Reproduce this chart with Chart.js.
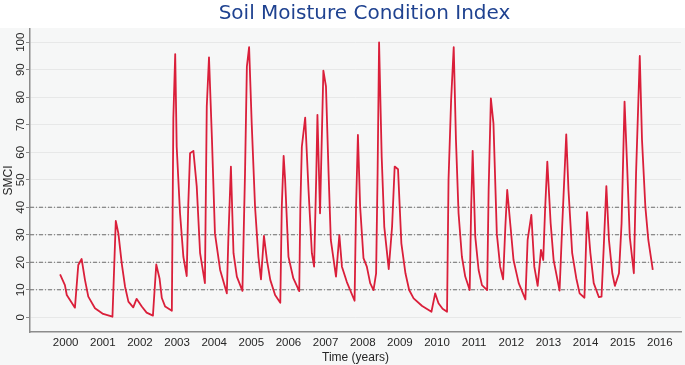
<!DOCTYPE html>
<html>
<head>
<meta charset="utf-8">
<script src="https://cdn.jsdelivr.net/npm/chart.js@4.4.1/dist/chart.umd.min.js"></script>
<style>
  html, body { margin: 0; padding: 0; background: #ffffff; }
  canvas { display: block; }
</style>
</head>
<body>
<canvas id="smciChart" width="685" height="365"></canvas>
<script>
// SMCI readings (decimal year, index value)
const times = [
  1999.85, 1999.98, 2000.03, 2000.25, 2000.34, 2000.43, 2000.52, 2000.61, 2000.79,
  2001.01, 2001.26, 2001.35, 2001.42, 2001.51, 2001.60, 2001.69, 2001.82, 2001.91,
  2002.05, 2002.18, 2002.35, 2002.44, 2002.53, 2002.59, 2002.68, 2002.86, 2002.90, 2002.95, 2002.99,
  2003.08, 2003.17, 2003.26, 2003.30, 2003.35, 2003.44, 2003.53, 2003.62, 2003.75, 2003.80, 2003.86, 2003.94,
  2004.02, 2004.16, 2004.34, 2004.38, 2004.45, 2004.52, 2004.61, 2004.76, 2004.83, 2004.88, 2004.94,
  2005.01, 2005.10, 2005.19, 2005.26, 2005.34, 2005.42, 2005.51, 2005.64, 2005.78, 2005.82, 2005.87, 2005.91,
  2006.00, 2006.13, 2006.29, 2006.32, 2006.36, 2006.45, 2006.54, 2006.63, 2006.69, 2006.75, 2006.78, 2006.85, 2006.94,
  2007.01, 2007.08, 2007.14, 2007.28, 2007.37, 2007.44, 2007.57, 2007.78, 2007.82, 2007.87, 2007.93,
  2008.02, 2008.11, 2008.20, 2008.29, 2008.36, 2008.40, 2008.44, 2008.51, 2008.58, 2008.70, 2008.79, 2008.86, 2008.95,
  2009.04, 2009.15, 2009.25, 2009.37, 2009.60, 2009.85, 2009.95,
  2010.04, 2010.15, 2010.27, 2010.31, 2010.38, 2010.45, 2010.51, 2010.58, 2010.67, 2010.76, 2010.88, 2010.92, 2010.96,
  2011.03, 2011.12, 2011.21, 2011.35, 2011.39, 2011.45, 2011.52, 2011.61, 2011.70, 2011.78, 2011.84, 2011.89, 2011.98,
  2012.06, 2012.20, 2012.38, 2012.44, 2012.54, 2012.62, 2012.71, 2012.80, 2012.86, 2012.91, 2012.97,
  2013.06, 2013.14, 2013.30, 2013.37, 2013.48, 2013.54, 2013.64, 2013.75, 2013.84, 2013.97,
  2014.04, 2014.13, 2014.22, 2014.36, 2014.43, 2014.49, 2014.56, 2014.63, 2014.72, 2014.79, 2014.90, 2014.97,
  2015.05, 2015.12, 2015.19, 2015.30, 2015.36, 2015.46, 2015.52, 2015.61, 2015.69, 2015.81
];
const smci = [
  15.6, 11.7, 8.1, 3.5, 19, 21.2, 13.6, 7.5, 3.3,
  1.2, 0.2, 35, 30.5, 19.6, 11.1, 5.7, 3.6, 6.7,
  3.9, 1.7, 0.6, 19.2, 14, 7, 3.9, 2.4, 72.4, 95.7, 62,
  37.8, 22, 15, 40.2, 59.6, 60.5, 47.5, 23.3, 12.4, 76.6, 94.5, 64.5,
  30.5, 17.2, 8.7, 28, 54.8, 23.3, 14.8, 9.6, 52.4, 91.1, 98.2,
  70.5, 40.2, 22, 13.8, 29.6, 20.8, 13.6, 8.1, 5.3, 40.2, 58.7, 49.9,
  22, 14.2, 9.5, 40.2, 62, 72.6, 46.3, 23.3, 18.4, 52.4, 73.6, 37.8, 89.7,
  83.9, 52.4, 28.1, 14.8, 29.9, 18.4, 12.9, 6, 40.2, 66.3, 40.2,
  21.5, 18.4, 12.4, 9.9, 16, 52.4, 99.9, 58.4, 32.9, 17.5, 32.9, 54.8, 53.8,
  26.9, 16, 9.9, 6.9, 4.1, 2, 8.7,
  5.1, 3.1, 2, 49.9, 79, 98.2, 64.5, 37.8, 22, 14.8, 9.9, 40.2, 60.5,
  29.3, 17.2, 11.7, 9.9, 46.3, 79.6, 70.5, 30.5, 18.4, 13.8, 32.9, 46.3, 32.9,
  20.8, 12.4, 6.5, 28.1, 37.2, 18.4, 11.4, 24.5, 20.8, 39, 56.6,
  34.2, 20.8, 9.7, 32.9, 66.5, 46.3, 23.3, 14.2, 8.7, 7.1,
  38.2, 23.3, 12.4, 7.3, 7.5, 25.7, 47.7, 28.1, 16, 11.4, 16, 34.2,
  78.4, 54.8, 29.3, 16, 52.4, 95, 64.5, 40.2, 28.1, 17.2
];

const yearTicks = [2000, 2001, 2002, 2003, 2004, 2005, 2006, 2007, 2008,
  2009, 2010, 2011, 2012, 2013, 2014, 2015, 2016];
const smciTicks = [0, 10, 20, 30, 40, 50, 60, 70, 80, 90, 100];
const refLevels = [10, 20, 30, 40];

const xMin = 1999.04, xMax = 2016.57;
const yMin = -5.35, yMax = 104.8;

const points = times.map((t, i) => ({ x: t, y: smci[i] }));

const refSets = refLevels.map(v => ({
  data: [{ x: xMin, y: v }, { x: xMax, y: v }],
  borderColor: "#6e6e6e",
  borderWidth: 1,
  borderDash: [4, 2, 1, 2],
  pointRadius: 0,
  order: 2
}));

// gray panel under the title + title text
const backdrop = {
  id: "backdrop",
  beforeDraw(chart) {
    const ctx = chart.ctx;
    ctx.save();
    ctx.fillStyle = "#f6f7f7";
    ctx.fillRect(0, 28, chart.width, chart.height - 28);
    ctx.fillStyle = "#1f4290";
    ctx.font = "20px 'DejaVu Sans'";
    ctx.textAlign = "center";
    ctx.textBaseline = "alphabetic";
    ctx.fillText("Soil Moisture Condition Index", 364.5, 19);
    ctx.restore();
  }
};

const ctx = document.getElementById("smciChart").getContext("2d");
new Chart(ctx, {
  type: "line",
  data: {
    datasets: [{
      data: points,
      borderColor: "#da1f3a",
      borderWidth: 1.8,
      borderJoinStyle: "round",
      pointRadius: 0,
      tension: 0,
      order: 1
    }, ...refSets]
  },
  options: {
    responsive: false,
    animation: false,
    layout: { padding: { top: 29, right: 4, left: 0, bottom: 0 } },
    plugins: {
      legend: { display: false },
      tooltip: { enabled: false },
      title: { display: false }
    },
    scales: {
      x: {
        type: "linear",
        min: xMin,
        max: xMax,
        afterBuildTicks: scale => { scale.ticks = yearTicks.map(v => ({ value: v })); },
        afterFit: scale => { scale.height = 33; },
        grid: { display: false, drawTicks: false },
        border: { color: "#8c8c8c", width: 1.5 },
        ticks: {
          padding: 4,
          color: "#262626",
          font: { family: "'Liberation Sans'", size: 11.5 },
          maxRotation: 0,
          autoSkip: false,
          callback: v => String(v)
        },
        title: {
          display: true,
          text: "Time (years)",
          color: "#262626",
          font: { family: "'Liberation Sans'", size: 12 },
          padding: { top: 0, bottom: 0 }
        }
      },
      y: {
        min: yMin,
        max: yMax,
        afterBuildTicks: scale => { scale.ticks = smciTicks.map(v => ({ value: v })); },
        afterFit: scale => { scale.width = 30; },
        grid: { color: "#e7e8e8", lineWidth: 1, tickLength: 4, tickColor: "#8c8c8c" },
        border: { color: "#8c8c8c", width: 1.5 },
        ticks: {
          padding: -4,
          minRotation: 90,
          maxRotation: 90,
          crossAlign: "center",
          color: "#262626",
          font: { family: "'Liberation Sans'", size: 11.5 }
        },
        title: {
          display: true,
          text: "SMCI",
          color: "#262626",
          font: { family: "'Liberation Sans'", size: 12 },
          padding: { top: 1, bottom: 0 }
        }
      }
    }
  },
  plugins: [backdrop]
});
</script>
</body>
</html>
